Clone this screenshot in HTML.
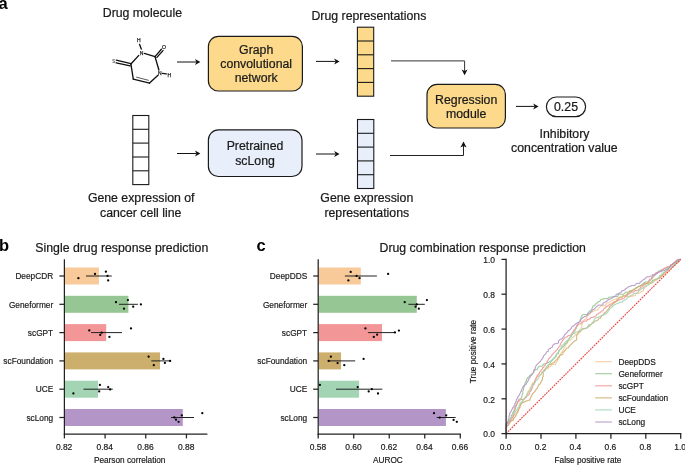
<!DOCTYPE html><html><head><meta charset="utf-8"><style>html,body{margin:0;padding:0;background:#fff;overflow:hidden}svg{display:block;will-change:transform;opacity:0.999}text{font-family:"Liberation Sans",sans-serif}</style></head><body>
<svg width="685" height="465" viewBox="0 0 685 465">
<rect width="685" height="465" fill="#fff"/>
<text x="-1.4" y="8.8" font-size="16.5" text-anchor="start" font-weight="bold" fill="#000"  >a</text>
<text x="142.4" y="17" font-size="12.3" text-anchor="middle" font-weight="normal" fill="#1a1a1a" stroke="#1a1a1a" stroke-width="0.22" >Drug molecule</text>
<line x1="116.3" y1="60.1" x2="130.9" y2="63.7" stroke="#111" stroke-width="1.35" stroke-linecap="round"/><line x1="116.2" y1="62.8" x2="130.2" y2="65.9" stroke="#111" stroke-width="1.35" stroke-linecap="round"/><line x1="130.9" y1="64" x2="138.8" y2="55.4" stroke="#111" stroke-width="1.35" stroke-linecap="round"/><line x1="139.6" y1="44.4" x2="141.3" y2="49.0" stroke="#111" stroke-width="1.35" stroke-linecap="round"/><line x1="144.3" y1="53.4" x2="155" y2="56.6" stroke="#111" stroke-width="1.35" stroke-linecap="round"/><line x1="155" y1="56.6" x2="161.4" y2="49.3" stroke="#111" stroke-width="1.35" stroke-linecap="round"/><line x1="156.9" y1="57.4" x2="163.0" y2="50.6" stroke="#111" stroke-width="1.35" stroke-linecap="round"/><line x1="155" y1="56.6" x2="158.9" y2="70.0" stroke="#111" stroke-width="1.35" stroke-linecap="round"/><line x1="162.4" y1="73.4" x2="166.3" y2="73.9" stroke="#111" stroke-width="1.35" stroke-linecap="round"/><line x1="158" y1="75.3" x2="149.5" y2="83.1" stroke="#111" stroke-width="1.35" stroke-linecap="round"/><line x1="149.5" y1="83.1" x2="133.3" y2="79.2" stroke="#111" stroke-width="1.35" stroke-linecap="round"/><line x1="136.6" y1="77.2" x2="148.4" y2="80.3" stroke="#111" stroke-width="0.7" stroke-linecap="round"/><line x1="133.3" y1="79.2" x2="130.9" y2="64" stroke="#111" stroke-width="1.35" stroke-linecap="round"/>
<text x="141.6" y="54.65" font-size="5.0" text-anchor="middle" font-weight="normal" fill="#222"  stroke="#222" stroke-width="0.25">N</text>
<text x="138.9" y="42.05" font-size="5.0" text-anchor="middle" font-weight="normal" fill="#222"  stroke="#222" stroke-width="0.25">H</text>
<text x="163.9" y="48.85" font-size="5.0" text-anchor="middle" font-weight="normal" fill="#222"  stroke="#222" stroke-width="0.25">O</text>
<text x="159.7" y="74.85" font-size="5.0" text-anchor="middle" font-weight="normal" fill="#222"  stroke="#222" stroke-width="0.25">N</text>
<text x="169.3" y="76.65" font-size="5.0" text-anchor="middle" font-weight="normal" fill="#222"  stroke="#222" stroke-width="0.25">H</text>
<text transform="translate(113.6,62.5) scale(0.75,1)" font-size="5.8" text-anchor="middle" fill="#444" stroke="#444" stroke-width="0.15">S</text>
<line x1="177" y1="62" x2="196.4" y2="62" stroke="#111" stroke-width="1"/>
<path d="M200.4,62 L195.0,59 L196.4,62 L195.0,65 Z" fill="#111"/>
<rect x="208.4" y="36.4" width="94" height="54.6" rx="10" ry="10" fill="#FDDA8B" stroke="#1a1a1a" stroke-width="1.2"/>
<text x="256.2" y="53.6" font-size="12.3" text-anchor="middle" font-weight="normal" fill="#1a1a1a" stroke="#1a1a1a" stroke-width="0.22" >Graph</text>
<text x="256.2" y="68" font-size="12.3" text-anchor="middle" font-weight="normal" fill="#1a1a1a" stroke="#1a1a1a" stroke-width="0.22" >convolutional</text>
<text x="256.2" y="82.4" font-size="12.3" text-anchor="middle" font-weight="normal" fill="#1a1a1a" stroke="#1a1a1a" stroke-width="0.22" >network</text>
<line x1="316" y1="61.4" x2="335.6" y2="61.4" stroke="#111" stroke-width="1"/>
<path d="M339.6,61.4 L334.20000000000005,58.4 L335.6,61.4 L334.20000000000005,64.4 Z" fill="#111"/>
<text x="368.9" y="20" font-size="12.3" text-anchor="middle" font-weight="normal" fill="#1a1a1a" stroke="#1a1a1a" stroke-width="0.22" >Drug representations</text>
<rect x="357.4" y="27.2" width="16.3" height="69" fill="#FDDA8B" stroke="#1a1a1a" stroke-width="1.1"/>
<line x1="357.4" y1="41.0" x2="373.7" y2="41.0" stroke="#1a1a1a" stroke-width="1.1"/>
<line x1="357.4" y1="54.8" x2="373.7" y2="54.8" stroke="#1a1a1a" stroke-width="1.1"/>
<line x1="357.4" y1="68.6" x2="373.7" y2="68.6" stroke="#1a1a1a" stroke-width="1.1"/>
<line x1="357.4" y1="82.4" x2="373.7" y2="82.4" stroke="#1a1a1a" stroke-width="1.1"/>
<path d="M391,60.9 L464.6,60.9 L464.6,71" fill="none" stroke="#333" stroke-width="1"/>
<path d="M464.6,75.3 L461.6,69.6 L464.6,71 L467.6,69.6 Z" fill="#111"/>
<rect x="427" y="84.4" width="78.4" height="43.6" rx="10" ry="10" fill="#FDDA8B" stroke="#1a1a1a" stroke-width="1.2"/>
<text x="466.2" y="103.6" font-size="12.3" text-anchor="middle" font-weight="normal" fill="#1a1a1a" stroke="#1a1a1a" stroke-width="0.22" >Regression</text>
<text x="466.2" y="118" font-size="12.3" text-anchor="middle" font-weight="normal" fill="#1a1a1a" stroke="#1a1a1a" stroke-width="0.22" >module</text>
<line x1="516" y1="106.4" x2="534.6" y2="106.4" stroke="#111" stroke-width="1"/>
<path d="M538.6,106.4 L533.2,103.4 L534.6,106.4 L533.2,109.4 Z" fill="#111"/>
<rect x="546.4" y="97" width="39.2" height="19.6" rx="9.8" ry="9.8" fill="#fff" stroke="#1a1a1a" stroke-width="1.2"/>
<text x="566" y="111" font-size="12.3" text-anchor="middle" font-weight="normal" fill="#1a1a1a" stroke="#1a1a1a" stroke-width="0.22" >0.25</text>
<text x="564.5" y="138" font-size="12.3" text-anchor="middle" font-weight="normal" fill="#1a1a1a" stroke="#1a1a1a" stroke-width="0.22" >Inhibitory</text>
<text x="564.4" y="152" font-size="12.3" text-anchor="middle" font-weight="normal" fill="#1a1a1a" stroke="#1a1a1a" stroke-width="0.22" >concentration value</text>
<rect x="132.8" y="115.5" width="16.0" height="69.1" fill="#fff" stroke="#1a1a1a" stroke-width="1.1"/>
<line x1="132.8" y1="129.3" x2="148.8" y2="129.3" stroke="#1a1a1a" stroke-width="1.1"/>
<line x1="132.8" y1="143.1" x2="148.8" y2="143.1" stroke="#1a1a1a" stroke-width="1.1"/>
<line x1="132.8" y1="157.0" x2="148.8" y2="157.0" stroke="#1a1a1a" stroke-width="1.1"/>
<line x1="132.8" y1="170.8" x2="148.8" y2="170.8" stroke="#1a1a1a" stroke-width="1.1"/>
<line x1="177" y1="153.5" x2="196.4" y2="153.5" stroke="#111" stroke-width="1"/>
<path d="M200.4,153.5 L195.0,150.5 L196.4,153.5 L195.0,156.5 Z" fill="#111"/>
<rect x="208.4" y="129.9" width="93.6" height="46.6" rx="10" ry="10" fill="#E8EEFA" stroke="#1a1a1a" stroke-width="1.2"/>
<text x="255" y="150" font-size="12.3" text-anchor="middle" font-weight="normal" fill="#1a1a1a" stroke="#1a1a1a" stroke-width="0.22" >Pretrained</text>
<text x="255" y="165" font-size="12.3" text-anchor="middle" font-weight="normal" fill="#1a1a1a" stroke="#1a1a1a" stroke-width="0.22" >scLong</text>
<line x1="316" y1="154" x2="335.6" y2="154" stroke="#111" stroke-width="1"/>
<path d="M339.6,154 L334.20000000000005,151 L335.6,154 L334.20000000000005,157 Z" fill="#111"/>
<rect x="357.5" y="119.5" width="16.3" height="69" fill="#E8EEFA" stroke="#1a1a1a" stroke-width="1.1"/>
<line x1="357.5" y1="133.3" x2="373.8" y2="133.3" stroke="#1a1a1a" stroke-width="1.1"/>
<line x1="357.5" y1="147.1" x2="373.8" y2="147.1" stroke="#1a1a1a" stroke-width="1.1"/>
<line x1="357.5" y1="160.9" x2="373.8" y2="160.9" stroke="#1a1a1a" stroke-width="1.1"/>
<line x1="357.5" y1="174.7" x2="373.8" y2="174.7" stroke="#1a1a1a" stroke-width="1.1"/>
<path d="M390,155.5 L463.5,155.5 L463.5,146" fill="none" stroke="#222" stroke-width="1"/>
<path d="M463.5,141.6 L460.4,147.4 L463.5,146 L466.6,147.4 Z" fill="#111"/>
<text x="141.2" y="202" font-size="12.3" text-anchor="middle" font-weight="normal" fill="#1a1a1a" stroke="#1a1a1a" stroke-width="0.22" >Gene expression of</text>
<text x="140.7" y="217" font-size="12.3" text-anchor="middle" font-weight="normal" fill="#1a1a1a" stroke="#1a1a1a" stroke-width="0.22" >cancer cell line</text>
<text x="366.8" y="202" font-size="12.3" text-anchor="middle" font-weight="normal" fill="#1a1a1a" stroke="#1a1a1a" stroke-width="0.22" >Gene expression</text>
<text x="366.8" y="217" font-size="12.3" text-anchor="middle" font-weight="normal" fill="#1a1a1a" stroke="#1a1a1a" stroke-width="0.22" >representations</text>
<text x="-1.1" y="251.1" font-size="16.5" text-anchor="start" font-weight="bold" fill="#000"  >b</text>
<text x="35.3" y="251.8" font-size="12.3" text-anchor="start" font-weight="normal" fill="#1a1a1a" stroke="#1a1a1a" stroke-width="0.22" >Single drug response prediction</text>
<rect x="64.9" y="267.5" width="34.0" height="17" fill="#F8C999"/>
<rect x="64.9" y="295.8" width="63.5" height="17" fill="#96C693"/>
<rect x="64.9" y="324.1" width="41.3" height="17" fill="#F39698"/>
<rect x="64.9" y="352.4" width="95.1" height="17" fill="#CCAE6D"/>
<rect x="64.9" y="380.7" width="33.099999999999994" height="17" fill="#A3D5B4"/>
<rect x="64.9" y="409.0" width="117.9" height="17" fill="#B495C7"/>
<line x1="86" y1="276" x2="111.8" y2="276" stroke="#222" stroke-width="1"/>
<line x1="119" y1="304.3" x2="137.9" y2="304.3" stroke="#222" stroke-width="1"/>
<line x1="91" y1="332.6" x2="122" y2="332.6" stroke="#222" stroke-width="1"/>
<line x1="151.3" y1="360.9" x2="170.6" y2="360.9" stroke="#222" stroke-width="1"/>
<line x1="83.5" y1="389.2" x2="112.8" y2="389.2" stroke="#222" stroke-width="1"/>
<line x1="171" y1="417.5" x2="194" y2="417.5" stroke="#222" stroke-width="1"/>
<circle cx="78.4" cy="278.2" r="1.15" fill="#000"/>
<circle cx="95" cy="273.9" r="1.15" fill="#000"/>
<circle cx="105.9" cy="271.7" r="1.15" fill="#000"/>
<circle cx="107.5" cy="275.9" r="1.15" fill="#000"/>
<circle cx="108.2" cy="280.4" r="1.15" fill="#000"/>
<circle cx="116" cy="302.2" r="1.15" fill="#000"/>
<circle cx="127.9" cy="300.1" r="1.15" fill="#000"/>
<circle cx="124" cy="308.7" r="1.15" fill="#000"/>
<circle cx="133.2" cy="306.7" r="1.15" fill="#000"/>
<circle cx="140.9" cy="304.4" r="1.15" fill="#000"/>
<circle cx="89.3" cy="330.4" r="1.15" fill="#000"/>
<circle cx="101.7" cy="332.7" r="1.15" fill="#000"/>
<circle cx="100.2" cy="334.9" r="1.15" fill="#000"/>
<circle cx="109.4" cy="336.9" r="1.15" fill="#000"/>
<circle cx="131" cy="328.4" r="1.15" fill="#000"/>
<circle cx="148.6" cy="356.7" r="1.15" fill="#000"/>
<circle cx="153.8" cy="365.2" r="1.15" fill="#000"/>
<circle cx="163.4" cy="358.9" r="1.15" fill="#000"/>
<circle cx="164.9" cy="362.9" r="1.15" fill="#000"/>
<circle cx="170.1" cy="360.9" r="1.15" fill="#000"/>
<circle cx="73.4" cy="393.4" r="1.15" fill="#000"/>
<circle cx="99.9" cy="384.9" r="1.15" fill="#000"/>
<circle cx="99.2" cy="391.4" r="1.15" fill="#000"/>
<circle cx="108.2" cy="387.1" r="1.15" fill="#000"/>
<circle cx="110.1" cy="389.4" r="1.15" fill="#000"/>
<circle cx="174.3" cy="417.4" r="1.15" fill="#000"/>
<circle cx="176" cy="419.7" r="1.15" fill="#000"/>
<circle cx="178.6" cy="421.8" r="1.15" fill="#000"/>
<circle cx="181.8" cy="415.4" r="1.15" fill="#000"/>
<circle cx="202.3" cy="413.2" r="1.15" fill="#000"/>
<line x1="64.4" y1="259.3" x2="64.4" y2="434.6" stroke="#222" stroke-width="1.25"/>
<line x1="63.800000000000004" y1="434" x2="207.4" y2="434" stroke="#222" stroke-width="1.25"/>
<line x1="64.4" y1="434" x2="64.4" y2="438.4" stroke="#222" stroke-width="1.25"/>
<text x="64.10000000000001" y="450.2" font-size="8.45" text-anchor="middle" font-weight="normal" fill="#1a1a1a" stroke="#1a1a1a" stroke-width="0.18" >0.82</text>
<line x1="105.08000000000001" y1="434" x2="105.08000000000001" y2="438.4" stroke="#222" stroke-width="1.25"/>
<text x="104.78000000000002" y="450.2" font-size="8.45" text-anchor="middle" font-weight="normal" fill="#1a1a1a" stroke="#1a1a1a" stroke-width="0.18" >0.84</text>
<line x1="145.76" y1="434" x2="145.76" y2="438.4" stroke="#222" stroke-width="1.25"/>
<text x="145.45999999999998" y="450.2" font-size="8.45" text-anchor="middle" font-weight="normal" fill="#1a1a1a" stroke="#1a1a1a" stroke-width="0.18" >0.86</text>
<line x1="186.44" y1="434" x2="186.44" y2="438.4" stroke="#222" stroke-width="1.25"/>
<text x="186.14" y="450.2" font-size="8.45" text-anchor="middle" font-weight="normal" fill="#1a1a1a" stroke="#1a1a1a" stroke-width="0.18" >0.88</text>
<line x1="59.400000000000006" y1="276" x2="64.4" y2="276" stroke="#222" stroke-width="1.25"/>
<text x="53.2" y="279.2" font-size="8.3" text-anchor="end" font-weight="normal" fill="#1a1a1a" stroke="#1a1a1a" stroke-width="0.18" >DeepCDR</text>
<line x1="59.400000000000006" y1="304.3" x2="64.4" y2="304.3" stroke="#222" stroke-width="1.25"/>
<text x="53.2" y="307.5" font-size="8.3" text-anchor="end" font-weight="normal" fill="#1a1a1a" stroke="#1a1a1a" stroke-width="0.18" >Geneformer</text>
<line x1="59.400000000000006" y1="332.6" x2="64.4" y2="332.6" stroke="#222" stroke-width="1.25"/>
<text x="53.2" y="335.8" font-size="8.3" text-anchor="end" font-weight="normal" fill="#1a1a1a" stroke="#1a1a1a" stroke-width="0.18" >scGPT</text>
<line x1="59.400000000000006" y1="360.9" x2="64.4" y2="360.9" stroke="#222" stroke-width="1.25"/>
<text x="53.2" y="364.09999999999997" font-size="8.3" text-anchor="end" font-weight="normal" fill="#1a1a1a" stroke="#1a1a1a" stroke-width="0.18" >scFoundation</text>
<line x1="59.400000000000006" y1="389.2" x2="64.4" y2="389.2" stroke="#222" stroke-width="1.25"/>
<text x="53.2" y="392.4" font-size="8.3" text-anchor="end" font-weight="normal" fill="#1a1a1a" stroke="#1a1a1a" stroke-width="0.18" >UCE</text>
<line x1="59.400000000000006" y1="417.5" x2="64.4" y2="417.5" stroke="#222" stroke-width="1.25"/>
<text x="53.2" y="420.7" font-size="8.3" text-anchor="end" font-weight="normal" fill="#1a1a1a" stroke="#1a1a1a" stroke-width="0.18" >scLong</text>
<text x="129.7" y="463.3" font-size="8.25" text-anchor="middle" font-weight="normal" fill="#1a1a1a" stroke="#1a1a1a" stroke-width="0.18" >Pearson correlation</text>
<text x="256.4" y="251.3" font-size="16.5" text-anchor="start" font-weight="bold" fill="#000"  >c</text>
<text x="379.6" y="252.0" font-size="12.25" text-anchor="start" font-weight="normal" fill="#1a1a1a" stroke="#1a1a1a" stroke-width="0.22" >Drug combination response prediction</text>
<rect x="318.7" y="267.5" width="42.10000000000002" height="17" fill="#F8C999"/>
<rect x="318.7" y="295.8" width="98.10000000000002" height="17" fill="#96C693"/>
<rect x="318.7" y="324.1" width="63.30000000000001" height="17" fill="#F39698"/>
<rect x="318.7" y="352.4" width="22.30000000000001" height="17" fill="#CCAE6D"/>
<rect x="318.7" y="380.7" width="40.400000000000034" height="17" fill="#A3D5B4"/>
<rect x="318.7" y="409.0" width="127.19999999999999" height="17" fill="#B495C7"/>
<line x1="344.9" y1="276" x2="376.9" y2="276" stroke="#222" stroke-width="1"/>
<line x1="408.4" y1="304.3" x2="424.8" y2="304.3" stroke="#222" stroke-width="1"/>
<line x1="367.9" y1="332.6" x2="395.7" y2="332.6" stroke="#222" stroke-width="1"/>
<line x1="327.9" y1="360.9" x2="355.2" y2="360.9" stroke="#222" stroke-width="1"/>
<line x1="336" y1="389.2" x2="382.3" y2="389.2" stroke="#222" stroke-width="1"/>
<line x1="436.7" y1="417.5" x2="455.6" y2="417.5" stroke="#222" stroke-width="1"/>
<circle cx="350.7" cy="271.9" r="1.15" fill="#000"/>
<circle cx="348.4" cy="280.4" r="1.15" fill="#000"/>
<circle cx="356.6" cy="275.9" r="1.15" fill="#000"/>
<circle cx="359.5" cy="278.2" r="1.15" fill="#000"/>
<circle cx="388.1" cy="273.9" r="1.15" fill="#000"/>
<circle cx="404.7" cy="302.2" r="1.15" fill="#000"/>
<circle cx="416.8" cy="304.4" r="1.15" fill="#000"/>
<circle cx="415.6" cy="306.7" r="1.15" fill="#000"/>
<circle cx="418.8" cy="308.7" r="1.15" fill="#000"/>
<circle cx="426.9" cy="300.1" r="1.15" fill="#000"/>
<circle cx="365.4" cy="328.4" r="1.15" fill="#000"/>
<circle cx="373.8" cy="336.9" r="1.15" fill="#000"/>
<circle cx="377.1" cy="334.7" r="1.15" fill="#000"/>
<circle cx="394.9" cy="332.4" r="1.15" fill="#000"/>
<circle cx="398.9" cy="330.6" r="1.15" fill="#000"/>
<circle cx="330.9" cy="356.7" r="1.15" fill="#000"/>
<circle cx="328.7" cy="360.9" r="1.15" fill="#000"/>
<circle cx="337.6" cy="363.1" r="1.15" fill="#000"/>
<circle cx="344.3" cy="365.2" r="1.15" fill="#000"/>
<circle cx="363.6" cy="358.9" r="1.15" fill="#000"/>
<circle cx="319.9" cy="384.9" r="1.15" fill="#000"/>
<circle cx="357.7" cy="387.1" r="1.15" fill="#000"/>
<circle cx="368.7" cy="391.4" r="1.15" fill="#000"/>
<circle cx="371.8" cy="389.2" r="1.15" fill="#000"/>
<circle cx="378" cy="393.5" r="1.15" fill="#000"/>
<circle cx="434" cy="413.2" r="1.15" fill="#000"/>
<circle cx="439.7" cy="417.6" r="1.15" fill="#000"/>
<circle cx="446.2" cy="415.4" r="1.15" fill="#000"/>
<circle cx="453.6" cy="419.9" r="1.15" fill="#000"/>
<circle cx="456.8" cy="421.8" r="1.15" fill="#000"/>
<line x1="318.2" y1="259.3" x2="318.2" y2="434.6" stroke="#222" stroke-width="1.25"/>
<line x1="317.59999999999997" y1="434" x2="460.90000000000003" y2="434" stroke="#222" stroke-width="1.25"/>
<line x1="318.2" y1="434" x2="318.2" y2="438.4" stroke="#222" stroke-width="1.25"/>
<text x="317.9" y="450.2" font-size="8.45" text-anchor="middle" font-weight="normal" fill="#1a1a1a" stroke="#1a1a1a" stroke-width="0.18" >0.58</text>
<line x1="353.71999999999997" y1="434" x2="353.71999999999997" y2="438.4" stroke="#222" stroke-width="1.25"/>
<text x="353.41999999999996" y="450.2" font-size="8.45" text-anchor="middle" font-weight="normal" fill="#1a1a1a" stroke="#1a1a1a" stroke-width="0.18" >0.60</text>
<line x1="389.24" y1="434" x2="389.24" y2="438.4" stroke="#222" stroke-width="1.25"/>
<text x="388.94" y="450.2" font-size="8.45" text-anchor="middle" font-weight="normal" fill="#1a1a1a" stroke="#1a1a1a" stroke-width="0.18" >0.62</text>
<line x1="424.76" y1="434" x2="424.76" y2="438.4" stroke="#222" stroke-width="1.25"/>
<text x="424.46" y="450.2" font-size="8.45" text-anchor="middle" font-weight="normal" fill="#1a1a1a" stroke="#1a1a1a" stroke-width="0.18" >0.64</text>
<line x1="460.28" y1="434" x2="460.28" y2="438.4" stroke="#222" stroke-width="1.25"/>
<text x="459.97999999999996" y="450.2" font-size="8.45" text-anchor="middle" font-weight="normal" fill="#1a1a1a" stroke="#1a1a1a" stroke-width="0.18" >0.66</text>
<line x1="313.2" y1="276" x2="318.2" y2="276" stroke="#222" stroke-width="1.25"/>
<text x="307.2" y="279.2" font-size="8.3" text-anchor="end" font-weight="normal" fill="#1a1a1a" stroke="#1a1a1a" stroke-width="0.18" >DeepDDS</text>
<line x1="313.2" y1="304.3" x2="318.2" y2="304.3" stroke="#222" stroke-width="1.25"/>
<text x="307.2" y="307.5" font-size="8.3" text-anchor="end" font-weight="normal" fill="#1a1a1a" stroke="#1a1a1a" stroke-width="0.18" >Geneformer</text>
<line x1="313.2" y1="332.6" x2="318.2" y2="332.6" stroke="#222" stroke-width="1.25"/>
<text x="307.2" y="335.8" font-size="8.3" text-anchor="end" font-weight="normal" fill="#1a1a1a" stroke="#1a1a1a" stroke-width="0.18" >scGPT</text>
<line x1="313.2" y1="360.9" x2="318.2" y2="360.9" stroke="#222" stroke-width="1.25"/>
<text x="307.2" y="364.09999999999997" font-size="8.3" text-anchor="end" font-weight="normal" fill="#1a1a1a" stroke="#1a1a1a" stroke-width="0.18" >scFoundation</text>
<line x1="313.2" y1="389.2" x2="318.2" y2="389.2" stroke="#222" stroke-width="1.25"/>
<text x="307.2" y="392.4" font-size="8.3" text-anchor="end" font-weight="normal" fill="#1a1a1a" stroke="#1a1a1a" stroke-width="0.18" >UCE</text>
<line x1="313.2" y1="417.5" x2="318.2" y2="417.5" stroke="#222" stroke-width="1.25"/>
<text x="307.2" y="420.7" font-size="8.3" text-anchor="end" font-weight="normal" fill="#1a1a1a" stroke="#1a1a1a" stroke-width="0.18" >scLong</text>
<text x="387.9" y="463.3" font-size="8.25" text-anchor="middle" font-weight="normal" fill="#1a1a1a" stroke="#1a1a1a" stroke-width="0.18" >AUROC</text>
<path d="M506.1,433.6 L506.1,428.5 L506.8,428.5 L506.8,426.3 L507.6,426.3 L507.6,424.9 L509.0,424.9 L509.0,423.4 L509.7,423.4 L509.7,422.7 L510.5,422.7 L510.5,422.0 L511.2,422.0 L511.2,421.3 L511.9,421.3 L511.9,419.1 L512.6,419.1 L512.6,417.6 L513.4,417.6 L513.4,415.5 L514.8,415.5 L514.8,414.0 L515.6,414.0 L515.6,413.3 L516.3,413.3 L516.3,412.6 L517.0,412.6 L517.0,411.8 L517.7,411.8 L517.7,410.4 L518.5,410.4 L518.5,409.6 L519.2,409.6 L519.2,408.2 L519.9,408.2 L519.9,406.7 L520.6,406.7 L520.6,404.6 L521.4,404.6 L521.4,403.8 L522.1,403.8 L522.1,402.4 L522.8,402.4 L522.8,400.9 L523.6,400.9 L523.6,399.5 L524.3,399.5 L524.3,398.0 L525.0,398.0 L525.0,396.6 L525.7,396.6 L525.7,395.9 L526.5,395.9 L526.5,394.4 L527.2,394.4 L527.2,393.0 L527.9,393.0 L527.9,391.5 L528.7,391.5 L528.7,390.1 L529.4,390.1 L529.4,389.3 L530.1,389.3 L530.1,387.1 L530.8,387.1 L530.8,386.4 L531.6,386.4 L531.6,384.2 L532.3,384.2 L532.3,382.8 L533.0,382.8 L533.0,382.1 L534.5,382.1 L534.5,380.6 L535.2,380.6 L535.2,379.2 L535.9,379.2 L535.9,378.4 L536.7,378.4 L536.7,377.0 L537.4,377.0 L537.4,376.3 L538.8,376.3 L538.8,374.8 L541.0,374.8 L541.0,373.4 L541.7,373.4 L541.7,371.9 L542.5,371.9 L542.5,371.2 L543.9,371.2 L543.9,370.5 L545.4,370.5 L545.4,369.0 L548.3,369.0 L548.3,367.5 L549.0,367.5 L549.0,366.8 L550.5,366.8 L550.5,366.1 L551.2,366.1 L551.2,365.4 L551.9,365.4 L551.9,364.6 L555.6,364.6 L555.6,363.2 L556.3,363.2 L556.3,362.5 L557.0,362.5 L557.0,361.0 L557.8,361.0 L557.8,358.8 L558.5,358.8 L558.5,358.1 L559.2,358.1 L559.2,355.9 L559.9,355.9 L559.9,354.5 L560.7,354.5 L560.7,353.0 L561.4,353.0 L561.4,352.3 L562.1,352.3 L562.1,350.9 L562.8,350.9 L562.8,350.1 L563.6,350.1 L563.6,348.0 L564.3,348.0 L564.3,347.2 L565.0,347.2 L565.0,345.8 L565.8,345.8 L565.8,344.3 L566.5,344.3 L566.5,343.6 L567.2,343.6 L567.2,342.9 L567.9,342.9 L567.9,341.4 L568.7,341.4 L568.7,340.7 L570.1,340.7 L570.1,340.0 L570.8,340.0 L570.8,339.2 L571.6,339.2 L571.6,337.8 L572.3,337.8 L572.3,337.1 L573.8,337.1 L573.8,336.3 L574.5,336.3 L574.5,335.6 L575.2,335.6 L575.2,334.9 L575.9,334.9 L575.9,334.2 L577.4,334.2 L577.4,333.4 L578.1,333.4 L578.1,332.0 L578.9,332.0 L578.9,331.3 L579.6,331.3 L579.6,329.8 L580.3,329.8 L580.3,329.1 L581.0,329.1 L581.0,327.6 L581.8,327.6 L581.8,324.0 L582.5,324.0 L582.5,321.1 L583.2,321.1 L583.2,320.4 L583.9,320.4 L583.9,319.6 L585.4,319.6 L585.4,318.9 L586.1,318.9 L586.1,318.2 L586.9,318.2 L586.9,316.7 L587.6,316.7 L587.6,315.3 L589.0,315.3 L589.0,314.6 L589.8,314.6 L589.8,313.1 L590.5,313.1 L590.5,312.4 L591.9,312.4 L591.9,311.7 L593.4,311.7 L593.4,310.9 L594.9,310.9 L594.9,310.2 L597.8,310.2 L597.8,308.8 L598.5,308.8 L598.5,308.0 L599.2,308.0 L599.2,307.3 L599.9,307.3 L599.9,306.6 L600.7,306.6 L600.7,305.9 L605.8,305.9 L605.8,304.4 L606.5,304.4 L606.5,302.9 L609.4,302.9 L609.4,302.2 L610.1,302.2 L610.1,301.5 L610.9,301.5 L610.9,300.8 L612.3,300.8 L612.3,300.0 L613.8,300.0 L613.8,299.3 L616.7,299.3 L616.7,297.9 L618.9,297.9 L618.9,297.1 L622.5,297.1 L622.5,296.4 L632.7,296.4 L632.7,295.7 L635.6,295.7 L635.6,293.5 L638.5,293.5 L638.5,292.8 L640.0,292.8 L640.0,292.1 L641.4,292.1 L641.4,291.3 L642.9,291.3 L642.9,290.6 L643.6,290.6 L643.6,288.4 L644.3,288.4 L644.3,287.7 L645.1,287.7 L645.1,287.0 L645.8,287.0 L645.8,286.3 L647.2,286.3 L647.2,285.5 L648.7,285.5 L648.7,284.8 L649.4,284.8 L649.4,283.4 L652.3,283.4 L652.3,282.6 L653.1,282.6 L653.1,281.2 L655.2,281.2 L655.2,280.4 L656.0,280.4 L656.0,279.7 L656.7,279.7 L656.7,279.0 L657.4,279.0 L657.4,278.3 L659.6,278.3 L659.6,276.8 L661.1,276.8 L661.1,276.1 L661.8,276.1 L661.8,275.4 L663.2,275.4 L663.2,273.9 L665.4,273.9 L665.4,272.5 L666.9,272.5 L666.9,271.0 L667.6,271.0 L667.6,270.3 L669.1,270.3 L669.1,269.6 L669.8,269.6 L669.8,268.8 L670.5,268.8 L670.5,268.1 L671.2,268.1 L671.2,266.7 L672.7,266.7 L672.7,265.9 L673.4,265.9 L673.4,265.2 L674.9,265.2 L674.9,264.5 L675.6,264.5 L675.6,263.8 L676.3,263.8 L676.3,263.0 L677.8,263.0 L677.8,262.3 L678.5,262.3 L678.5,261.6 L679.2,261.6 L679.2,260.1 L680.0,260.1 L680.0,259.4 L680.7,259.4" fill="none" stroke="#F8C999" stroke-width="1" stroke-linejoin="round" opacity="0.95"/>
<path d="M506.1,433.6 L506.1,426.3 L506.8,426.3 L506.8,425.6 L508.3,425.6 L508.3,424.9 L509.0,424.9 L509.0,422.7 L509.7,422.7 L509.7,419.1 L510.5,419.1 L510.5,417.6 L511.2,417.6 L511.2,415.5 L511.9,415.5 L511.9,414.0 L512.6,414.0 L512.6,412.6 L513.4,412.6 L513.4,411.1 L514.1,411.1 L514.1,408.2 L514.8,408.2 L514.8,406.7 L515.6,406.7 L515.6,405.3 L516.3,405.3 L516.3,403.8 L517.0,403.8 L517.0,403.1 L517.7,403.1 L517.7,400.9 L518.5,400.9 L518.5,399.5 L519.2,399.5 L519.2,398.8 L521.4,398.8 L521.4,396.6 L522.1,396.6 L522.1,394.4 L522.8,394.4 L522.8,390.1 L523.6,390.1 L523.6,387.1 L524.3,387.1 L524.3,385.7 L525.0,385.7 L525.0,382.1 L525.7,382.1 L525.7,381.3 L526.5,381.3 L526.5,379.2 L527.2,379.2 L527.2,377.7 L527.9,377.7 L527.9,377.0 L529.4,377.0 L529.4,375.5 L530.1,375.5 L530.1,374.8 L531.6,374.8 L531.6,374.1 L532.3,374.1 L532.3,373.4 L533.0,373.4 L533.0,372.6 L533.7,372.6 L533.7,371.2 L534.5,371.2 L534.5,370.5 L535.2,370.5 L535.2,369.7 L537.4,369.7 L537.4,368.3 L538.1,368.3 L538.1,366.8 L539.6,366.8 L539.6,366.1 L542.5,366.1 L542.5,365.4 L543.2,365.4 L543.2,363.9 L545.4,363.9 L545.4,363.2 L547.6,363.2 L547.6,362.5 L549.0,362.5 L549.0,361.7 L549.8,361.7 L549.8,361.0 L551.9,361.0 L551.9,359.6 L552.7,359.6 L552.7,358.8 L554.1,358.8 L554.1,358.1 L554.8,358.1 L554.8,357.4 L555.6,357.4 L555.6,356.7 L556.3,356.7 L556.3,354.5 L557.0,354.5 L557.0,353.8 L558.5,353.8 L558.5,351.6 L559.2,351.6 L559.2,350.1 L559.9,350.1 L559.9,349.4 L560.7,349.4 L560.7,348.7 L561.4,348.7 L561.4,348.0 L562.1,348.0 L562.1,347.2 L562.8,347.2 L562.8,346.5 L563.6,346.5 L563.6,345.8 L564.3,345.8 L564.3,345.0 L565.0,345.0 L565.0,343.6 L565.8,343.6 L565.8,342.9 L567.2,342.9 L567.2,340.0 L568.7,340.0 L568.7,338.5 L569.4,338.5 L569.4,337.8 L570.1,337.8 L570.1,337.1 L570.8,337.1 L570.8,336.3 L571.6,336.3 L571.6,334.9 L572.3,334.9 L572.3,334.2 L573.0,334.2 L573.0,333.4 L573.8,333.4 L573.8,331.3 L574.5,331.3 L574.5,330.5 L575.2,330.5 L575.2,329.1 L575.9,329.1 L575.9,328.4 L576.7,328.4 L576.7,326.2 L577.4,326.2 L577.4,325.5 L578.1,325.5 L578.1,323.3 L578.9,323.3 L578.9,321.8 L579.6,321.8 L579.6,321.1 L580.3,321.1 L580.3,318.9 L581.0,318.9 L581.0,316.7 L581.8,316.7 L581.8,315.3 L582.5,315.3 L582.5,314.6 L587.6,314.6 L587.6,313.1 L588.3,313.1 L588.3,312.4 L589.0,312.4 L589.0,310.9 L591.2,310.9 L591.2,309.5 L591.9,309.5 L591.9,308.0 L592.7,308.0 L592.7,305.9 L594.9,305.9 L594.9,304.4 L595.6,304.4 L595.6,303.7 L597.0,303.7 L597.0,302.2 L598.5,302.2 L598.5,301.5 L599.9,301.5 L599.9,300.8 L600.7,300.8 L600.7,299.3 L603.6,299.3 L603.6,298.6 L608.0,298.6 L608.0,297.9 L608.7,297.9 L608.7,297.1 L612.3,297.1 L612.3,296.4 L618.1,296.4 L618.1,294.2 L624.0,294.2 L624.0,293.5 L624.7,293.5 L624.7,292.8 L625.4,292.8 L625.4,292.1 L629.0,292.1 L629.0,291.3 L632.0,291.3 L632.0,290.6 L632.7,290.6 L632.7,289.9 L633.4,289.9 L633.4,289.2 L634.9,289.2 L634.9,288.4 L635.6,288.4 L635.6,287.7 L637.1,287.7 L637.1,287.0 L637.8,287.0 L637.8,286.3 L640.7,286.3 L640.7,285.5 L641.4,285.5 L641.4,284.8 L642.1,284.8 L642.1,284.1 L643.6,284.1 L643.6,282.6 L645.1,282.6 L645.1,281.9 L648.7,281.9 L648.7,280.4 L650.9,280.4 L650.9,279.0 L652.3,279.0 L652.3,277.5 L653.1,277.5 L653.1,276.8 L653.8,276.8 L653.8,275.4 L655.2,275.4 L655.2,273.9 L656.7,273.9 L656.7,272.5 L658.1,272.5 L658.1,271.0 L660.3,271.0 L660.3,270.3 L661.8,270.3 L661.8,269.6 L663.2,269.6 L663.2,268.8 L666.2,268.8 L666.2,268.1 L666.9,268.1 L666.9,267.4 L669.1,267.4 L669.1,266.7 L670.5,266.7 L670.5,265.9 L671.2,265.9 L671.2,265.2 L672.0,265.2 L672.0,264.5 L672.7,264.5 L672.7,263.8 L674.2,263.8 L674.2,263.0 L675.6,263.0 L675.6,262.3 L676.3,262.3 L676.3,260.9 L677.8,260.9 L677.8,260.1 L679.2,260.1 L679.2,259.4 L680.7,259.4" fill="none" stroke="#96C693" stroke-width="1" stroke-linejoin="round" opacity="0.95"/>
<path d="M506.1,433.6 L506.1,425.6 L507.6,425.6 L507.6,424.9 L508.3,424.9 L508.3,423.4 L509.0,423.4 L509.0,422.7 L509.7,422.7 L509.7,421.3 L510.5,421.3 L510.5,419.8 L511.2,419.8 L511.2,418.4 L511.9,418.4 L511.9,417.6 L512.6,417.6 L512.6,416.9 L513.4,416.9 L513.4,414.7 L514.1,414.7 L514.1,411.8 L514.8,411.8 L514.8,409.6 L515.6,409.6 L515.6,406.7 L516.3,406.7 L516.3,405.3 L517.0,405.3 L517.0,402.4 L517.7,402.4 L517.7,401.7 L519.2,401.7 L519.2,400.2 L520.6,400.2 L520.6,399.5 L523.6,399.5 L523.6,398.8 L525.0,398.8 L525.0,398.0 L525.7,398.0 L525.7,397.3 L526.5,397.3 L526.5,395.9 L527.9,395.9 L527.9,395.1 L528.7,395.1 L528.7,394.4 L529.4,394.4 L529.4,392.2 L530.1,392.2 L530.1,391.5 L530.8,391.5 L530.8,390.1 L531.6,390.1 L531.6,388.6 L532.3,388.6 L532.3,386.4 L533.0,386.4 L533.0,385.0 L533.7,385.0 L533.7,384.2 L534.5,384.2 L534.5,382.1 L535.2,382.1 L535.2,379.9 L535.9,379.9 L535.9,377.7 L536.7,377.7 L536.7,376.3 L537.4,376.3 L537.4,374.8 L538.1,374.8 L538.1,374.1 L538.8,374.1 L538.8,373.4 L539.6,373.4 L539.6,371.9 L540.3,371.9 L540.3,371.2 L541.0,371.2 L541.0,369.7 L541.7,369.7 L541.7,369.0 L542.5,369.0 L542.5,367.5 L543.9,367.5 L543.9,366.1 L544.7,366.1 L544.7,365.4 L545.4,365.4 L545.4,363.9 L546.1,363.9 L546.1,363.2 L546.8,363.2 L546.8,361.7 L547.6,361.7 L547.6,360.3 L548.3,360.3 L548.3,358.8 L549.0,358.8 L549.0,358.1 L549.8,358.1 L549.8,357.4 L550.5,357.4 L550.5,356.7 L551.2,356.7 L551.2,355.9 L551.9,355.9 L551.9,354.5 L552.7,354.5 L552.7,353.8 L553.4,353.8 L553.4,353.0 L554.1,353.0 L554.1,352.3 L554.8,352.3 L554.8,351.6 L555.6,351.6 L555.6,350.9 L556.3,350.9 L556.3,350.1 L557.0,350.1 L557.0,349.4 L557.8,349.4 L557.8,348.0 L558.5,348.0 L558.5,347.2 L559.2,347.2 L559.2,346.5 L559.9,346.5 L559.9,345.0 L560.7,345.0 L560.7,342.9 L561.4,342.9 L561.4,342.1 L562.1,342.1 L562.1,340.7 L562.8,340.7 L562.8,340.0 L563.6,340.0 L563.6,338.5 L564.3,338.5 L564.3,337.8 L565.8,337.8 L565.8,337.1 L567.2,337.1 L567.2,336.3 L567.9,336.3 L567.9,335.6 L570.1,335.6 L570.1,334.9 L571.6,334.9 L571.6,333.4 L572.3,333.4 L572.3,332.7 L573.0,332.7 L573.0,331.3 L573.8,331.3 L573.8,329.8 L575.2,329.8 L575.2,327.6 L575.9,327.6 L575.9,326.9 L576.7,326.9 L576.7,324.7 L578.1,324.7 L578.1,324.0 L581.0,324.0 L581.0,323.3 L581.8,323.3 L581.8,321.8 L583.9,321.8 L583.9,321.1 L586.9,321.1 L586.9,319.6 L589.0,319.6 L589.0,318.9 L590.5,318.9 L590.5,317.5 L593.4,317.5 L593.4,316.7 L595.6,316.7 L595.6,316.0 L596.3,316.0 L596.3,314.6 L597.8,314.6 L597.8,313.8 L598.5,313.8 L598.5,313.1 L599.9,313.1 L599.9,312.4 L600.7,312.4 L600.7,311.7 L601.4,311.7 L601.4,310.9 L602.9,310.9 L602.9,310.2 L603.6,310.2 L603.6,308.8 L604.3,308.8 L604.3,308.0 L605.8,308.0 L605.8,306.6 L607.2,306.6 L607.2,305.9 L608.7,305.9 L608.7,305.1 L609.4,305.1 L609.4,304.4 L610.9,304.4 L610.9,303.7 L612.3,303.7 L612.3,302.9 L613.0,302.9 L613.0,302.2 L616.0,302.2 L616.0,301.5 L616.7,301.5 L616.7,300.8 L618.1,300.8 L618.1,300.0 L620.3,300.0 L620.3,299.3 L621.8,299.3 L621.8,298.6 L624.0,298.6 L624.0,297.9 L624.7,297.9 L624.7,297.1 L625.4,297.1 L625.4,296.4 L626.1,296.4 L626.1,295.7 L627.6,295.7 L627.6,294.2 L629.0,294.2 L629.0,293.5 L629.8,293.5 L629.8,292.8 L631.2,292.8 L631.2,292.1 L634.1,292.1 L634.1,291.3 L634.9,291.3 L634.9,290.6 L637.8,290.6 L637.8,289.9 L638.5,289.9 L638.5,289.2 L640.0,289.2 L640.0,287.7 L640.7,287.7 L640.7,287.0 L642.9,287.0 L642.9,285.5 L643.6,285.5 L643.6,284.8 L645.1,284.8 L645.1,284.1 L645.8,284.1 L645.8,283.4 L647.2,283.4 L647.2,282.6 L648.0,282.6 L648.0,281.9 L648.7,281.9 L648.7,281.2 L649.4,281.2 L649.4,279.0 L651.6,279.0 L651.6,277.5 L652.3,277.5 L652.3,276.8 L653.1,276.8 L653.1,276.1 L653.8,276.1 L653.8,275.4 L654.5,275.4 L654.5,274.6 L655.2,274.6 L655.2,273.2 L656.0,273.2 L656.0,272.5 L658.9,272.5 L658.9,271.7 L660.3,271.7 L660.3,271.0 L661.8,271.0 L661.8,269.6 L663.2,269.6 L663.2,268.8 L664.0,268.8 L664.0,268.1 L665.4,268.1 L665.4,267.4 L666.9,267.4 L666.9,266.7 L669.8,266.7 L669.8,265.9 L670.5,265.9 L670.5,264.5 L672.0,264.5 L672.0,263.8 L672.7,263.8 L672.7,263.0 L674.2,263.0 L674.2,262.3 L674.9,262.3 L674.9,261.6 L675.6,261.6 L675.6,260.9 L676.3,260.9 L676.3,260.1 L679.2,260.1 L679.2,259.4 L680.7,259.4" fill="none" stroke="#F39698" stroke-width="1" stroke-linejoin="round" opacity="0.95"/>
<path d="M506.1,433.6 L506.1,424.2 L506.8,424.2 L506.8,423.4 L507.6,423.4 L507.6,422.7 L508.3,422.7 L508.3,422.0 L509.0,422.0 L509.0,421.3 L510.5,421.3 L510.5,420.5 L513.4,420.5 L513.4,418.4 L514.1,418.4 L514.1,417.6 L514.8,417.6 L514.8,416.9 L515.6,416.9 L515.6,415.5 L516.3,415.5 L516.3,414.0 L517.0,414.0 L517.0,412.6 L517.7,412.6 L517.7,411.1 L518.5,411.1 L518.5,408.9 L519.2,408.9 L519.2,407.5 L519.9,407.5 L519.9,405.3 L520.6,405.3 L520.6,403.8 L521.4,403.8 L521.4,403.1 L522.1,403.1 L522.1,402.4 L524.3,402.4 L524.3,401.7 L525.7,401.7 L525.7,400.9 L527.9,400.9 L527.9,400.2 L530.1,400.2 L530.1,398.0 L530.8,398.0 L530.8,396.6 L531.6,396.6 L531.6,395.1 L532.3,395.1 L532.3,393.7 L533.0,393.7 L533.0,393.0 L533.7,393.0 L533.7,392.2 L534.5,392.2 L534.5,391.5 L535.2,391.5 L535.2,390.1 L535.9,390.1 L535.9,389.3 L536.7,389.3 L536.7,388.6 L537.4,388.6 L537.4,387.1 L538.1,387.1 L538.1,385.7 L538.8,385.7 L538.8,384.2 L540.3,384.2 L540.3,382.8 L541.0,382.8 L541.0,381.3 L541.7,381.3 L541.7,379.9 L542.5,379.9 L542.5,377.0 L543.2,377.0 L543.2,371.9 L543.9,371.9 L543.9,369.7 L544.7,369.7 L544.7,369.0 L545.4,369.0 L545.4,368.3 L546.8,368.3 L546.8,367.5 L547.6,367.5 L547.6,366.8 L548.3,366.8 L548.3,365.4 L549.0,365.4 L549.0,364.6 L551.2,364.6 L551.2,363.9 L551.9,363.9 L551.9,363.2 L553.4,363.2 L553.4,362.5 L554.8,362.5 L554.8,361.0 L555.6,361.0 L555.6,360.3 L556.3,360.3 L556.3,359.6 L557.8,359.6 L557.8,357.4 L559.2,357.4 L559.2,355.9 L559.9,355.9 L559.9,355.2 L561.4,355.2 L561.4,354.5 L562.8,354.5 L562.8,352.3 L563.6,352.3 L563.6,351.6 L564.3,351.6 L564.3,350.9 L565.0,350.9 L565.0,350.1 L565.8,350.1 L565.8,348.7 L566.5,348.7 L566.5,348.0 L568.7,348.0 L568.7,346.5 L569.4,346.5 L569.4,345.8 L570.1,345.8 L570.1,345.0 L570.8,345.0 L570.8,344.3 L571.6,344.3 L571.6,343.6 L572.3,343.6 L572.3,342.9 L573.0,342.9 L573.0,342.1 L573.8,342.1 L573.8,341.4 L574.5,341.4 L574.5,340.7 L575.9,340.7 L575.9,340.0 L576.7,340.0 L576.7,334.9 L577.4,334.9 L577.4,334.2 L578.1,334.2 L578.1,332.7 L578.9,332.7 L578.9,332.0 L580.3,332.0 L580.3,331.3 L581.0,331.3 L581.0,329.8 L582.5,329.8 L582.5,328.4 L586.9,328.4 L586.9,327.6 L587.6,327.6 L587.6,326.9 L589.0,326.9 L589.0,326.2 L589.8,326.2 L589.8,325.5 L590.5,325.5 L590.5,324.7 L591.2,324.7 L591.2,324.0 L591.9,324.0 L591.9,323.3 L593.4,323.3 L593.4,322.5 L594.1,322.5 L594.1,321.1 L596.3,321.1 L596.3,320.4 L597.8,320.4 L597.8,319.6 L598.5,319.6 L598.5,318.9 L599.2,318.9 L599.2,318.2 L600.7,318.2 L600.7,316.7 L601.4,316.7 L601.4,316.0 L602.1,316.0 L602.1,315.3 L602.9,315.3 L602.9,314.6 L603.6,314.6 L603.6,313.8 L604.3,313.8 L604.3,312.4 L605.8,312.4 L605.8,311.7 L606.5,311.7 L606.5,310.9 L607.2,310.9 L607.2,310.2 L608.0,310.2 L608.0,308.8 L608.7,308.8 L608.7,308.0 L609.4,308.0 L609.4,306.6 L610.1,306.6 L610.1,305.9 L611.6,305.9 L611.6,305.1 L612.3,305.1 L612.3,304.4 L613.0,304.4 L613.0,303.7 L613.8,303.7 L613.8,302.9 L614.5,302.9 L614.5,301.5 L616.0,301.5 L616.0,300.8 L616.7,300.8 L616.7,300.0 L617.4,300.0 L617.4,299.3 L618.9,299.3 L618.9,297.9 L620.3,297.9 L620.3,297.1 L622.5,297.1 L622.5,295.7 L625.4,295.7 L625.4,295.0 L626.9,295.0 L626.9,293.5 L628.3,293.5 L628.3,292.8 L629.0,292.8 L629.0,292.1 L629.8,292.1 L629.8,290.6 L632.7,290.6 L632.7,289.9 L634.9,289.9 L634.9,288.4 L636.3,288.4 L636.3,287.7 L637.8,287.7 L637.8,287.0 L638.5,287.0 L638.5,286.3 L640.0,286.3 L640.0,285.5 L642.1,285.5 L642.1,284.8 L642.9,284.8 L642.9,284.1 L644.3,284.1 L644.3,283.4 L648.7,283.4 L648.7,282.6 L650.9,282.6 L650.9,281.9 L652.3,281.9 L652.3,280.4 L653.8,280.4 L653.8,279.7 L655.2,279.7 L655.2,279.0 L658.1,279.0 L658.1,278.3 L659.6,278.3 L659.6,277.5 L660.3,277.5 L660.3,276.8 L661.1,276.8 L661.1,275.4 L662.5,275.4 L662.5,274.6 L663.2,274.6 L663.2,273.9 L664.0,273.9 L664.0,273.2 L664.7,273.2 L664.7,272.5 L665.4,272.5 L665.4,271.7 L666.2,271.7 L666.2,271.0 L667.6,271.0 L667.6,269.6 L668.3,269.6 L668.3,268.8 L669.1,268.8 L669.1,267.4 L669.8,267.4 L669.8,266.7 L670.5,266.7 L670.5,265.9 L672.0,265.9 L672.0,264.5 L672.7,264.5 L672.7,263.8 L674.2,263.8 L674.2,263.0 L674.9,263.0 L674.9,262.3 L675.6,262.3 L675.6,261.6 L677.1,261.6 L677.1,260.9 L678.5,260.9 L678.5,260.1 L680.0,260.1 L680.0,259.4 L680.7,259.4" fill="none" stroke="#CCAE6D" stroke-width="1" stroke-linejoin="round" opacity="0.95"/>
<path d="M506.1,433.6 L506.1,422.7 L507.6,422.7 L507.6,422.0 L508.3,422.0 L508.3,421.3 L509.0,421.3 L509.0,420.5 L509.7,420.5 L509.7,419.1 L510.5,419.1 L510.5,417.6 L511.2,417.6 L511.2,416.9 L511.9,416.9 L511.9,416.2 L512.6,416.2 L512.6,414.7 L513.4,414.7 L513.4,414.0 L514.1,414.0 L514.1,412.6 L514.8,412.6 L514.8,411.8 L515.6,411.8 L515.6,411.1 L516.3,411.1 L516.3,410.4 L517.0,410.4 L517.0,408.9 L517.7,408.9 L517.7,407.5 L518.5,407.5 L518.5,406.7 L519.2,406.7 L519.2,404.6 L519.9,404.6 L519.9,403.1 L520.6,403.1 L520.6,402.4 L521.4,402.4 L521.4,401.7 L522.1,401.7 L522.1,400.9 L522.8,400.9 L522.8,400.2 L523.6,400.2 L523.6,398.8 L524.3,398.8 L524.3,398.0 L525.7,398.0 L525.7,396.6 L526.5,396.6 L526.5,395.9 L527.2,395.9 L527.2,393.7 L527.9,393.7 L527.9,392.2 L528.7,392.2 L528.7,391.5 L529.4,391.5 L529.4,390.8 L530.1,390.8 L530.1,389.3 L530.8,389.3 L530.8,387.9 L531.6,387.9 L531.6,387.1 L532.3,387.1 L532.3,384.2 L533.0,384.2 L533.0,383.5 L534.5,383.5 L534.5,382.8 L535.2,382.8 L535.2,381.3 L535.9,381.3 L535.9,380.6 L536.7,380.6 L536.7,379.9 L537.4,379.9 L537.4,379.2 L538.1,379.2 L538.1,378.4 L538.8,378.4 L538.8,376.3 L539.6,376.3 L539.6,375.5 L540.3,375.5 L540.3,374.8 L541.0,374.8 L541.0,374.1 L541.7,374.1 L541.7,372.6 L543.2,372.6 L543.2,371.2 L544.7,371.2 L544.7,370.5 L545.4,370.5 L545.4,368.3 L546.1,368.3 L546.1,366.8 L546.8,366.8 L546.8,366.1 L547.6,366.1 L547.6,365.4 L548.3,365.4 L548.3,364.6 L549.0,364.6 L549.0,363.9 L549.8,363.9 L549.8,363.2 L550.5,363.2 L550.5,361.7 L551.9,361.7 L551.9,360.3 L552.7,360.3 L552.7,359.6 L553.4,359.6 L553.4,358.1 L554.1,358.1 L554.1,357.4 L554.8,357.4 L554.8,356.7 L555.6,356.7 L555.6,355.2 L556.3,355.2 L556.3,353.8 L557.0,353.8 L557.0,353.0 L557.8,353.0 L557.8,352.3 L558.5,352.3 L558.5,350.9 L559.2,350.9 L559.2,350.1 L559.9,350.1 L559.9,349.4 L560.7,349.4 L560.7,348.0 L561.4,348.0 L561.4,345.8 L562.1,345.8 L562.1,345.0 L563.6,345.0 L563.6,343.6 L564.3,343.6 L564.3,342.9 L565.0,342.9 L565.0,342.1 L565.8,342.1 L565.8,341.4 L567.2,341.4 L567.2,340.7 L567.9,340.7 L567.9,340.0 L568.7,340.0 L568.7,339.2 L569.4,339.2 L569.4,337.8 L570.1,337.8 L570.1,335.6 L571.6,335.6 L571.6,334.9 L572.3,334.9 L572.3,334.2 L573.0,334.2 L573.0,333.4 L575.2,333.4 L575.2,332.0 L578.1,332.0 L578.1,331.3 L578.9,331.3 L578.9,330.5 L581.0,330.5 L581.0,329.8 L581.8,329.8 L581.8,329.1 L584.7,329.1 L584.7,328.4 L586.1,328.4 L586.1,327.6 L587.6,327.6 L587.6,326.2 L588.3,326.2 L588.3,324.7 L591.2,324.7 L591.2,323.3 L592.7,323.3 L592.7,321.8 L593.4,321.8 L593.4,321.1 L594.1,321.1 L594.1,318.9 L594.9,318.9 L594.9,318.2 L596.3,318.2 L596.3,317.5 L598.5,317.5 L598.5,316.7 L599.9,316.7 L599.9,316.0 L601.4,316.0 L601.4,315.3 L603.6,315.3 L603.6,314.6 L605.0,314.6 L605.0,313.8 L606.5,313.8 L606.5,313.1 L607.2,313.1 L607.2,312.4 L608.0,312.4 L608.0,310.9 L608.7,310.9 L608.7,310.2 L609.4,310.2 L609.4,308.8 L610.1,308.8 L610.1,308.0 L611.6,308.0 L611.6,307.3 L612.3,307.3 L612.3,305.9 L613.8,305.9 L613.8,305.1 L614.5,305.1 L614.5,304.4 L616.0,304.4 L616.0,303.7 L618.1,303.7 L618.1,302.9 L619.6,302.9 L619.6,302.2 L622.5,302.2 L622.5,300.8 L624.0,300.8 L624.0,300.0 L626.1,300.0 L626.1,299.3 L626.9,299.3 L626.9,297.9 L627.6,297.9 L627.6,297.1 L629.8,297.1 L629.8,295.7 L631.2,295.7 L631.2,295.0 L632.7,295.0 L632.7,294.2 L633.4,294.2 L633.4,293.5 L636.3,293.5 L636.3,292.8 L637.8,292.8 L637.8,292.1 L638.5,292.1 L638.5,290.6 L640.0,290.6 L640.0,289.2 L641.4,289.2 L641.4,288.4 L643.6,288.4 L643.6,287.0 L644.3,287.0 L644.3,286.3 L645.8,286.3 L645.8,285.5 L646.5,285.5 L646.5,284.8 L648.7,284.8 L648.7,284.1 L650.1,284.1 L650.1,283.4 L650.9,283.4 L650.9,282.6 L653.1,282.6 L653.1,280.4 L654.5,280.4 L654.5,279.7 L656.7,279.7 L656.7,279.0 L657.4,279.0 L657.4,278.3 L658.1,278.3 L658.1,277.5 L658.9,277.5 L658.9,276.8 L659.6,276.8 L659.6,275.4 L661.1,275.4 L661.1,274.6 L661.8,274.6 L661.8,273.2 L663.2,273.2 L663.2,272.5 L664.0,272.5 L664.0,271.7 L664.7,271.7 L664.7,271.0 L666.9,271.0 L666.9,269.6 L667.6,269.6 L667.6,268.8 L668.3,268.8 L668.3,268.1 L671.2,268.1 L671.2,267.4 L672.0,267.4 L672.0,266.7 L672.7,266.7 L672.7,265.9 L674.2,265.9 L674.2,264.5 L675.6,264.5 L675.6,263.8 L676.3,263.8 L676.3,262.3 L677.8,262.3 L677.8,260.9 L678.5,260.9 L678.5,260.1 L680.7,260.1 L680.7,259.4" fill="none" stroke="#A3D5B4" stroke-width="1" stroke-linejoin="round" opacity="0.95"/>
<path d="M506.1,433.6 L506.1,424.2 L506.8,424.2 L506.8,423.4 L507.6,423.4 L507.6,421.3 L508.3,421.3 L508.3,419.1 L509.0,419.1 L509.0,415.5 L509.7,415.5 L509.7,412.6 L510.5,412.6 L510.5,411.8 L511.2,411.8 L511.2,410.4 L511.9,410.4 L511.9,408.9 L512.6,408.9 L512.6,407.5 L513.4,407.5 L513.4,406.7 L514.1,406.7 L514.1,405.3 L514.8,405.3 L514.8,403.1 L515.6,403.1 L515.6,401.7 L516.3,401.7 L516.3,399.5 L517.0,399.5 L517.0,398.0 L517.7,398.0 L517.7,396.6 L518.5,396.6 L518.5,395.9 L519.2,395.9 L519.2,394.4 L519.9,394.4 L519.9,393.0 L520.6,393.0 L520.6,391.5 L521.4,391.5 L521.4,389.3 L522.1,389.3 L522.1,388.6 L522.8,388.6 L522.8,386.4 L523.6,386.4 L523.6,385.7 L524.3,385.7 L524.3,385.0 L525.0,385.0 L525.0,384.2 L526.5,384.2 L526.5,382.8 L527.2,382.8 L527.2,381.3 L527.9,381.3 L527.9,380.6 L528.7,380.6 L528.7,378.4 L529.4,378.4 L529.4,377.7 L530.1,377.7 L530.1,376.3 L530.8,376.3 L530.8,375.5 L531.6,375.5 L531.6,374.8 L532.3,374.8 L532.3,373.4 L533.0,373.4 L533.0,372.6 L533.7,372.6 L533.7,369.7 L534.5,369.7 L534.5,369.0 L535.2,369.0 L535.2,366.8 L535.9,366.8 L535.9,365.4 L536.7,365.4 L536.7,364.6 L537.4,364.6 L537.4,363.9 L538.1,363.9 L538.1,363.2 L538.8,363.2 L538.8,362.5 L539.6,362.5 L539.6,361.7 L540.3,361.7 L540.3,361.0 L541.0,361.0 L541.0,359.6 L541.7,359.6 L541.7,358.8 L542.5,358.8 L542.5,358.1 L543.2,358.1 L543.2,355.9 L543.9,355.9 L543.9,355.2 L544.7,355.2 L544.7,354.5 L545.4,354.5 L545.4,353.8 L546.1,353.8 L546.1,352.3 L546.8,352.3 L546.8,351.6 L548.3,351.6 L548.3,349.4 L549.0,349.4 L549.0,348.7 L550.5,348.7 L550.5,348.0 L551.2,348.0 L551.2,347.2 L552.7,347.2 L552.7,345.0 L553.4,345.0 L553.4,344.3 L554.8,344.3 L554.8,343.6 L557.8,343.6 L557.8,342.9 L558.5,342.9 L558.5,340.7 L559.2,340.7 L559.2,340.0 L559.9,340.0 L559.9,339.2 L562.1,339.2 L562.1,337.8 L562.8,337.8 L562.8,337.1 L563.6,337.1 L563.6,336.3 L564.3,336.3 L564.3,334.9 L565.0,334.9 L565.0,334.2 L565.8,334.2 L565.8,333.4 L566.5,333.4 L566.5,332.7 L567.2,332.7 L567.2,332.0 L567.9,332.0 L567.9,330.5 L569.4,330.5 L569.4,329.8 L570.1,329.8 L570.1,329.1 L570.8,329.1 L570.8,328.4 L571.6,328.4 L571.6,326.9 L572.3,326.9 L572.3,326.2 L573.8,326.2 L573.8,325.5 L574.5,325.5 L574.5,324.7 L575.2,324.7 L575.2,324.0 L575.9,324.0 L575.9,323.3 L577.4,323.3 L577.4,322.5 L578.9,322.5 L578.9,321.8 L580.3,321.8 L580.3,320.4 L581.0,320.4 L581.0,318.9 L581.8,318.9 L581.8,318.2 L582.5,318.2 L582.5,317.5 L583.9,317.5 L583.9,316.7 L585.4,316.7 L585.4,316.0 L586.9,316.0 L586.9,314.6 L588.3,314.6 L588.3,313.1 L590.5,313.1 L590.5,311.7 L591.9,311.7 L591.9,310.2 L592.7,310.2 L592.7,309.5 L594.1,309.5 L594.1,308.8 L594.9,308.8 L594.9,308.0 L595.6,308.0 L595.6,307.3 L596.3,307.3 L596.3,306.6 L597.0,306.6 L597.0,305.9 L597.8,305.9 L597.8,305.1 L602.9,305.1 L602.9,302.9 L604.3,302.9 L604.3,302.2 L605.8,302.2 L605.8,301.5 L606.5,301.5 L606.5,300.8 L608.0,300.8 L608.0,299.3 L610.1,299.3 L610.1,298.6 L611.6,298.6 L611.6,297.9 L613.0,297.9 L613.0,297.1 L614.5,297.1 L614.5,296.4 L616.0,296.4 L616.0,294.2 L618.1,294.2 L618.1,293.5 L619.6,293.5 L619.6,292.8 L620.3,292.8 L620.3,292.1 L621.8,292.1 L621.8,290.6 L624.0,290.6 L624.0,289.9 L625.4,289.9 L625.4,288.4 L626.9,288.4 L626.9,287.7 L627.6,287.7 L627.6,287.0 L629.0,287.0 L629.0,286.3 L631.2,286.3 L631.2,285.5 L634.9,285.5 L634.9,284.8 L635.6,284.8 L635.6,284.1 L636.3,284.1 L636.3,283.4 L640.0,283.4 L640.0,281.9 L641.4,281.9 L641.4,281.2 L642.1,281.2 L642.1,280.4 L642.9,280.4 L642.9,279.7 L644.3,279.7 L644.3,279.0 L645.1,279.0 L645.1,278.3 L645.8,278.3 L645.8,277.5 L646.5,277.5 L646.5,276.8 L650.1,276.8 L650.1,276.1 L652.3,276.1 L652.3,274.6 L655.2,274.6 L655.2,273.9 L657.4,273.9 L657.4,272.5 L658.9,272.5 L658.9,271.7 L661.1,271.7 L661.1,271.0 L663.2,271.0 L663.2,270.3 L665.4,270.3 L665.4,269.6 L667.6,269.6 L667.6,268.8 L668.3,268.8 L668.3,268.1 L669.1,268.1 L669.1,266.7 L669.8,266.7 L669.8,265.9 L670.5,265.9 L670.5,265.2 L672.0,265.2 L672.0,264.5 L672.7,264.5 L672.7,263.8 L673.4,263.8 L673.4,263.0 L674.2,263.0 L674.2,262.3 L675.6,262.3 L675.6,261.6 L676.3,261.6 L676.3,260.9 L677.1,260.9 L677.1,260.1 L677.8,260.1 L677.8,259.4 L680.7,259.4" fill="none" stroke="#B495C7" stroke-width="1" stroke-linejoin="round" opacity="0.95"/>
<line x1="506.1" y1="433.6" x2="680.7" y2="259.4" stroke="#EF3B3B" stroke-width="1.15" stroke-dasharray="1.7,1.0"/>
<line x1="506.1" y1="258.79999999999995" x2="506.1" y2="434.20000000000005" stroke="#222" stroke-width="1.25"/>
<line x1="505.5" y1="433.6" x2="681.3000000000001" y2="433.6" stroke="#222" stroke-width="1.25"/>
<line x1="506.1" y1="433.6" x2="506.1" y2="438.8" stroke="#222" stroke-width="1.25"/>
<line x1="501.5" y1="433.6" x2="506.1" y2="433.6" stroke="#222" stroke-width="1.25"/>
<text x="505.6" y="450.4" font-size="8.45" text-anchor="middle" font-weight="normal" fill="#1a1a1a" stroke="#1a1a1a" stroke-width="0.18" >0.0</text>
<text x="495.0" y="437.4" font-size="8.45" text-anchor="end" font-weight="normal" fill="#1a1a1a" stroke="#1a1a1a" stroke-width="0.18" >0.0</text>
<line x1="541.0" y1="433.6" x2="541.0" y2="438.8" stroke="#222" stroke-width="1.25"/>
<line x1="501.5" y1="398.8" x2="506.1" y2="398.8" stroke="#222" stroke-width="1.25"/>
<text x="540.5" y="450.4" font-size="8.45" text-anchor="middle" font-weight="normal" fill="#1a1a1a" stroke="#1a1a1a" stroke-width="0.18" >0.2</text>
<text x="495.0" y="402.6" font-size="8.45" text-anchor="end" font-weight="normal" fill="#1a1a1a" stroke="#1a1a1a" stroke-width="0.18" >0.2</text>
<line x1="575.9" y1="433.6" x2="575.9" y2="438.8" stroke="#222" stroke-width="1.25"/>
<line x1="501.5" y1="363.9" x2="506.1" y2="363.9" stroke="#222" stroke-width="1.25"/>
<text x="575.4" y="450.4" font-size="8.45" text-anchor="middle" font-weight="normal" fill="#1a1a1a" stroke="#1a1a1a" stroke-width="0.18" >0.4</text>
<text x="495.0" y="367.7" font-size="8.45" text-anchor="end" font-weight="normal" fill="#1a1a1a" stroke="#1a1a1a" stroke-width="0.18" >0.4</text>
<line x1="610.9" y1="433.6" x2="610.9" y2="438.8" stroke="#222" stroke-width="1.25"/>
<line x1="501.5" y1="329.1" x2="506.1" y2="329.1" stroke="#222" stroke-width="1.25"/>
<text x="610.4" y="450.4" font-size="8.45" text-anchor="middle" font-weight="normal" fill="#1a1a1a" stroke="#1a1a1a" stroke-width="0.18" >0.6</text>
<text x="495.0" y="332.9" font-size="8.45" text-anchor="end" font-weight="normal" fill="#1a1a1a" stroke="#1a1a1a" stroke-width="0.18" >0.6</text>
<line x1="645.8" y1="433.6" x2="645.8" y2="438.8" stroke="#222" stroke-width="1.25"/>
<line x1="501.5" y1="294.2" x2="506.1" y2="294.2" stroke="#222" stroke-width="1.25"/>
<text x="645.3" y="450.4" font-size="8.45" text-anchor="middle" font-weight="normal" fill="#1a1a1a" stroke="#1a1a1a" stroke-width="0.18" >0.8</text>
<text x="495.0" y="298.0" font-size="8.45" text-anchor="end" font-weight="normal" fill="#1a1a1a" stroke="#1a1a1a" stroke-width="0.18" >0.8</text>
<line x1="680.7" y1="433.6" x2="680.7" y2="438.8" stroke="#222" stroke-width="1.25"/>
<line x1="501.5" y1="259.4" x2="506.1" y2="259.4" stroke="#222" stroke-width="1.25"/>
<text x="680.2" y="450.4" font-size="8.45" text-anchor="middle" font-weight="normal" fill="#1a1a1a" stroke="#1a1a1a" stroke-width="0.18" >1.0</text>
<text x="495.0" y="263.2" font-size="8.45" text-anchor="end" font-weight="normal" fill="#1a1a1a" stroke="#1a1a1a" stroke-width="0.18" >1.0</text>
<text x="588" y="463.3" font-size="8.25" text-anchor="middle" font-weight="normal" fill="#1a1a1a" stroke="#1a1a1a" stroke-width="0.18" >False positive rate</text>
<text x="0" y="0" font-size="8.25" text-anchor="middle" font-weight="normal" fill="#1a1a1a" stroke="#1a1a1a" stroke-width="0.18" transform="translate(476.2,351.6) rotate(-90)">True positive rate</text>
<line x1="595.2" y1="361.7" x2="612" y2="361.7" stroke="#F8C999" stroke-width="1.1" opacity="0.9"/>
<text x="618.4" y="364.7" font-size="8.3" text-anchor="start" font-weight="normal" fill="#1a1a1a" stroke="#1a1a1a" stroke-width="0.18" >DeepDDS</text>
<line x1="595.2" y1="373.7" x2="612" y2="373.7" stroke="#96C693" stroke-width="1.1" opacity="0.9"/>
<text x="618.4" y="376.7" font-size="8.3" text-anchor="start" font-weight="normal" fill="#1a1a1a" stroke="#1a1a1a" stroke-width="0.18" >Geneformer</text>
<line x1="595.2" y1="385.8" x2="612" y2="385.8" stroke="#F39698" stroke-width="1.1" opacity="0.9"/>
<text x="618.4" y="388.8" font-size="8.3" text-anchor="start" font-weight="normal" fill="#1a1a1a" stroke="#1a1a1a" stroke-width="0.18" >scGPT</text>
<line x1="595.2" y1="397.9" x2="612" y2="397.9" stroke="#CCAE6D" stroke-width="1.1" opacity="0.9"/>
<text x="618.4" y="400.9" font-size="8.3" text-anchor="start" font-weight="normal" fill="#1a1a1a" stroke="#1a1a1a" stroke-width="0.18" >scFoundation</text>
<line x1="595.2" y1="409.9" x2="612" y2="409.9" stroke="#A3D5B4" stroke-width="1.1" opacity="0.9"/>
<text x="618.4" y="412.9" font-size="8.3" text-anchor="start" font-weight="normal" fill="#1a1a1a" stroke="#1a1a1a" stroke-width="0.18" >UCE</text>
<line x1="595.2" y1="422" x2="612" y2="422" stroke="#B495C7" stroke-width="1.1" opacity="0.9"/>
<text x="618.4" y="425.0" font-size="8.3" text-anchor="start" font-weight="normal" fill="#1a1a1a" stroke="#1a1a1a" stroke-width="0.18" >scLong</text>
</svg></body></html>
